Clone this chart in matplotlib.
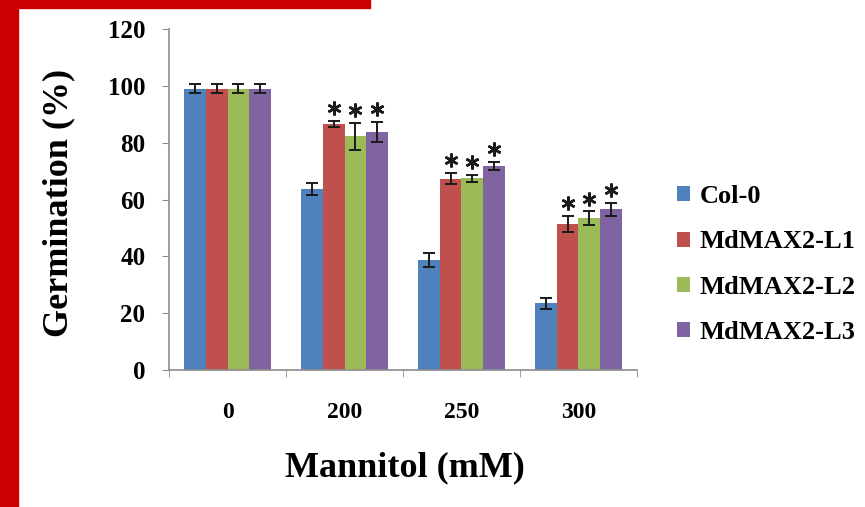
import numpy as np
import matplotlib
matplotlib.use("Agg")
import matplotlib.pyplot as plt
from matplotlib.patches import Rectangle

# mannitol treatments and germination rates (%) per line
treatments = ["0", "200", "250", "300"]
lines = ["Col-0", "MdMAX2-L1", "MdMAX2-L2", "MdMAX2-L3"]
col0 = [99.0, 63.7, 38.7, 23.5]
l1 = [99.0, 86.6, 67.3, 51.4]
l2 = [99.0, 82.2, 67.5, 53.5]
l3 = [99.0, 83.8, 71.8, 56.6]
col0_err = [1.5, 2.0, 2.5, 2.0]
l1_err = [1.5, 1.0, 2.0, 2.9]
l2_err = [1.5, 4.8, 1.2, 2.3]
l3_err = [1.5, 3.5, 1.3, 2.3]
# significance marks (True = asterisk above the bar)
l1_sig = [False, True, True, True]
l2_sig = [False, True, True, True]
l3_sig = [False, True, True, True]

values = [col0, l1, l2, l3]
errors = [col0_err, l1_err, l2_err, l3_err]
signif = [[False] * 4, l1_sig, l2_sig, l3_sig]
colors = ["#4F81BD", "#C0504D", "#9BBB59", "#8064A2"]

serif = "Liberation Serif"

fig = plt.figure(figsize=(8.65, 5.07), dpi=100)
ax = fig.add_axes([0.1954, 0.2702, 0.5410, 0.6726])

x = np.arange(len(treatments))
w = 0.184
for i in range(len(lines)):
    pos = x + (i - 1.5) * w
    ax.bar(pos, values[i], w, color=colors[i], label=lines[i], zorder=2)
    ax.errorbar(pos, values[i], yerr=errors[i], fmt="none", ecolor="#1a1a1a",
                elinewidth=1.4, capsize=4.5, capthick=1.4, zorder=3)
    for j in range(len(treatments)):
        if signif[i][j]:
            ax.plot(pos[j], values[i][j] + errors[i][j] + 4.5, marker=(6, 2, 0),
                    markersize=10, mew=1.8, color="#1a1a1a", zorder=4)

ax.set_xlim(-0.5, 3.5)
ax.set_ylim(0, 120)
ax.set_yticks(np.arange(0, 121, 20))
ax.set_xticks(x)
ax.set_xticklabels(treatments)
ax.set_xticks(np.arange(-0.5, 3.6, 1), minor=True)

for s in ["top", "right"]:
    ax.spines[s].set_visible(False)
for s in ["left", "bottom"]:
    ax.spines[s].set_color("#8c8c8c")
    ax.spines[s].set_linewidth(1.2)

ax.tick_params(axis="y", direction="out", length=5, color="#8c8c8c", pad=12)
ax.tick_params(axis="x", which="major", length=0, pad=23)
ax.tick_params(axis="x", which="minor", direction="out", length=5, color="#8c8c8c")

for lab in ax.get_yticklabels():
    lab.set_fontfamily(serif)
    lab.set_fontweight("bold")
    lab.set_fontsize(18)
for lab in ax.get_xticklabels():
    lab.set_fontfamily(serif)
    lab.set_fontweight("bold")
    lab.set_fontsize(17)

fig.text(0.068, 0.600, "Germination (%)", rotation=90, ha="center", va="center",
         fontfamily=serif, fontweight="bold", fontsize=26)
fig.text(0.468, 0.078, "Mannitol (mM)", ha="center", va="center",
         fontfamily=serif, fontweight="bold", fontsize=26)

leg = ax.legend(loc="center left", bbox_to_anchor=(0.755, 0.478),
                bbox_transform=fig.transFigure, frameon=False,
                prop={"family": serif, "weight": "bold", "size": 19},
                handlelength=0.5, handleheight=0.5, handletextpad=0.35,
                labelspacing=0.85)

# red frame strips on the left and top edges
fig.patches.append(Rectangle((0, 0), 18 / 865, 1, transform=fig.transFigure,
                             color="#CC0000", zorder=0))
fig.patches.append(Rectangle((0, 1 - 8 / 507), 370 / 865, 8 / 507,
                             transform=fig.transFigure, color="#CC0000", zorder=0))

fig.savefig("out.png", dpi=100)
